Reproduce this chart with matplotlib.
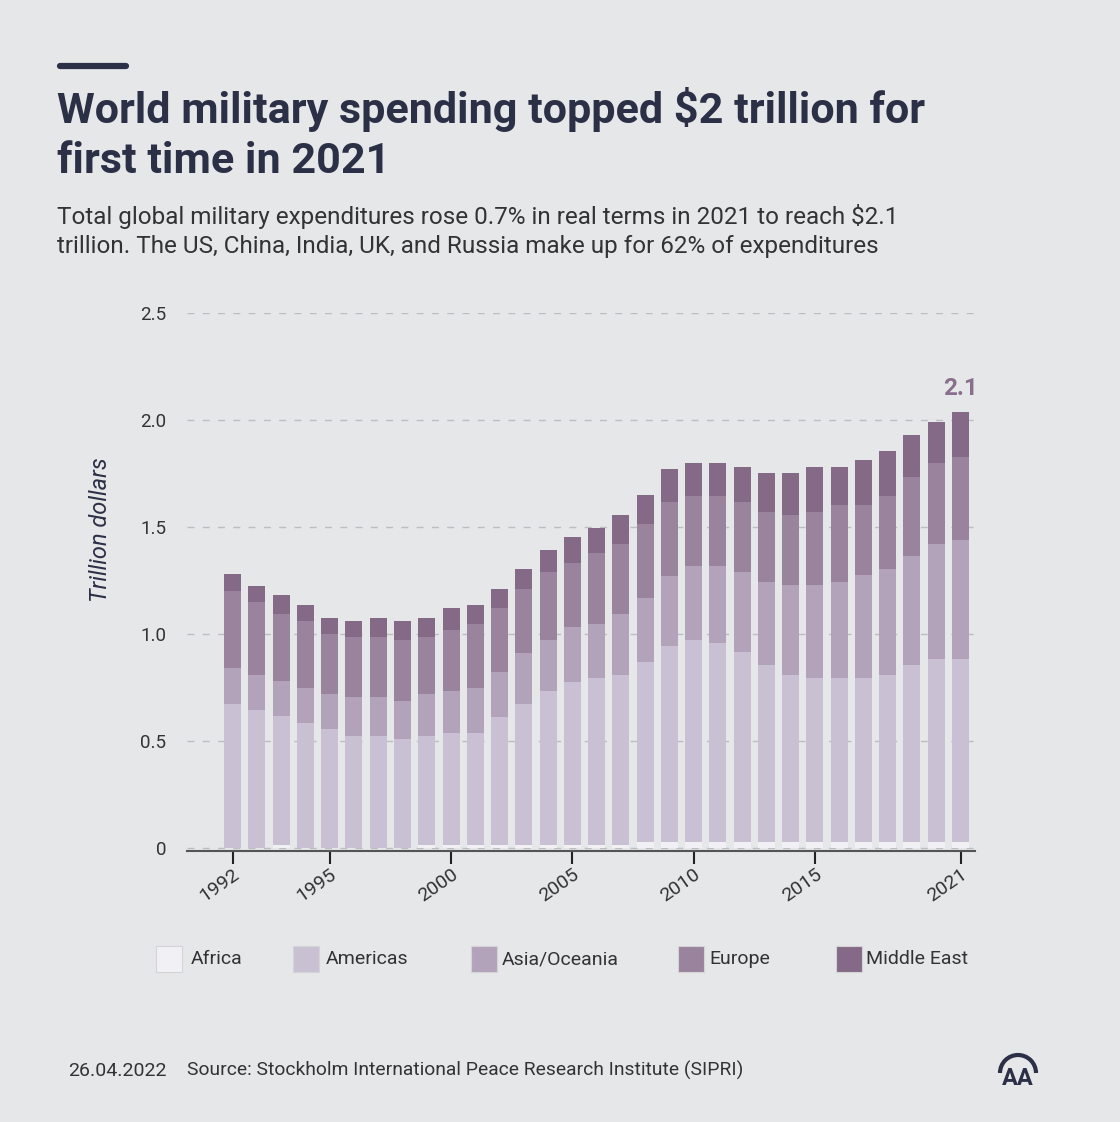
import numpy as np
import matplotlib
matplotlib.use('Agg')
import matplotlib.pyplot as plt
from matplotlib.patches import Rectangle, Arc
from matplotlib.lines import Line2D

plt.rcParams['font.family'] = ['Roboto', 'DejaVu Sans']

# data (trillion dollars), one bar per year
years = list(range(1991, 2022))
africa = [0, 0, 0.013, 0, 0, 0, 0, 0, 0.013, 0.013, 0.013, 0.013, 0.013, 0.013,
          0.013, 0.013, 0.013, 0.029, 0.029, 0.029, 0.029, 0.029, 0.029, 0.029,
          0.029, 0.029, 0.029, 0.029, 0.029, 0.029, 0.029]
americas = [0.671, 0.643, 0.603, 0.584, 0.555, 0.523, 0.523, 0.509, 0.511, 0.525,
            0.525, 0.601, 0.660, 0.720, 0.765, 0.780, 0.796, 0.840, 0.914, 0.944,
            0.930, 0.885, 0.826, 0.780, 0.765, 0.765, 0.765, 0.780, 0.826, 0.855,
            0.855]
asia = [0.171, 0.165, 0.164, 0.164, 0.164, 0.181, 0.181, 0.179, 0.195, 0.195,
        0.210, 0.209, 0.240, 0.240, 0.255, 0.255, 0.283, 0.299, 0.330, 0.344,
        0.358, 0.375, 0.389, 0.419, 0.435, 0.450, 0.480, 0.494, 0.509, 0.539,
        0.555]
europe = [0.358, 0.343, 0.313, 0.313, 0.283, 0.282, 0.282, 0.283, 0.268, 0.285,
          0.299, 0.299, 0.299, 0.315, 0.299, 0.329, 0.329, 0.344, 0.343, 0.330,
          0.330, 0.327, 0.327, 0.329, 0.343, 0.358, 0.329, 0.344, 0.372, 0.374,
          0.388]
middle_east = [0.081, 0.075, 0.090, 0.076, 0.075, 0.076, 0.090, 0.090, 0.090, 0.106,
               0.090, 0.090, 0.090, 0.104, 0.120, 0.120, 0.136, 0.136, 0.153, 0.150,
               0.150, 0.165, 0.181, 0.195, 0.210, 0.179, 0.210, 0.210, 0.196, 0.195,
               0.212]

regions = ['Africa', 'Americas', 'Asia/Oceania', 'Europe', 'Middle East']
colors = ['#f1f0f4', '#c9c1d3', '#b3a3ba', '#9a839c', '#846a86']
tick_pos = [0, 4, 9, 14, 19, 24, 30]
tick_labels = ['1992', '1995', '2000', '2005', '2010', '2015', '2021']
total_label = '2.1'

bg = '#e6e7e9'
dark = '#2b3047'
txt = '#333333'

fig = plt.figure(figsize=(11.2, 11.22), dpi=100, facecolor=bg)
ax = fig.add_axes([0.167, 0.2415, 0.7036, 0.4795], facecolor=bg)

x = np.arange(len(years))
bottom = np.zeros(len(years))
for vals, c in zip([africa, americas, asia, europe, middle_east], colors):
    ax.bar(x, vals, bottom=bottom, width=0.7, color=c, zorder=3)
    bottom += np.array(vals)

ax.text(x[-1], bottom[-1] + 0.055, total_label, ha='center', va='bottom',
        fontsize=17.5, fontweight='bold', color='#8a6f8c')

ax.set_xlim(-1.88, 30.6)
ax.set_ylim(-0.014, 2.5)
ax.set_yticks([0, 0.5, 1.0, 1.5, 2.0, 2.5])
ax.set_yticklabels(['0', '0.5', '1.0', '1.5', '2.0', '2.5'])
ax.yaxis.grid(True, color='#bdbec1', linestyle=(0, (5, 6)), linewidth=1, zorder=0)
ax.tick_params(axis='y', length=0, pad=15, labelsize=13.5, labelcolor=txt)
ax.set_xticks(tick_pos)
ax.set_xticklabels(tick_labels, rotation=35, ha='right', va='top',
                   rotation_mode='anchor')
ax.tick_params(axis='x', length=9, width=1.5, color='#222222', labelsize=14,
               labelcolor=txt, pad=1)
for s in ['top', 'right', 'left']:
    ax.spines[s].set_visible(False)
ax.spines['bottom'].set_color('#555555')
ax.spines['bottom'].set_linewidth(1.5)
ax.set_ylabel('Trillion dollars', fontsize=17, style='italic', color=dark)
ax.yaxis.set_label_coords(-0.095, 0.597)

# header
fig.add_artist(Line2D([60 / 1120, 126 / 1120], [1 - 66 / 1122, 1 - 66 / 1122],
                      color=dark, linewidth=4.5, solid_capstyle='round'))
fig.text(57 / 1120, 1 - 123 / 1122, 'World military spending topped $2 trillion for',
         fontsize=31.1, fontweight='bold', color=dark, va='baseline')
fig.text(57 / 1120, 1 - 173 / 1122, 'first time in 2021',
         fontsize=31.1, fontweight='bold', color=dark, va='baseline')
fig.text(57 / 1120, 1 - 224 / 1122,
         'Total global military expenditures rose 0.7% in real terms in 2021 to reach $2.1',
         fontsize=17.5, color=txt, va='baseline')
fig.text(57 / 1120, 1 - 253 / 1122,
         'trillion. The US, China, India, UK, and Russia make up for 62% of expenditures',
         fontsize=17.5, color=txt, va='baseline')

# legend
leg_x = [156, 293, 471, 678, 836]
leg_tx = [191, 326, 502, 709, 866]
for lx, tx, name, c in zip(leg_x, leg_tx, regions, colors):
    fig.add_artist(Rectangle((lx / 1120, 1 - 972 / 1122), 26 / 1120, 26 / 1122,
                             facecolor=c, edgecolor='#d4d4d8', linewidth=0.8))
    fig.text(tx / 1120, 1 - 959 / 1122, name, fontsize=14, color=txt,
             va='center')

# footer
fig.text(68 / 1120, 1 - 1076 / 1122, '26.04.2022', fontsize=14, color=txt,
         va='baseline')
fig.text(187 / 1120, 1 - 1076 / 1122,
         'Source: Stockholm International Peace Research Institute (SIPRI)',
         fontsize=13.9, color=txt, va='baseline')
fig.add_artist(Arc((1018 / 1120, 1 - 1073 / 1122), 36 / 1120, 36 / 1122,
                   theta1=0, theta2=180, color=dark, linewidth=3))
fig.text(1018 / 1120, 1 - 1085 / 1122, 'AA', fontsize=17, fontweight='bold',
         color=dark, ha='center', va='baseline')

plt.savefig('out.png', dpi=100, facecolor=bg)
